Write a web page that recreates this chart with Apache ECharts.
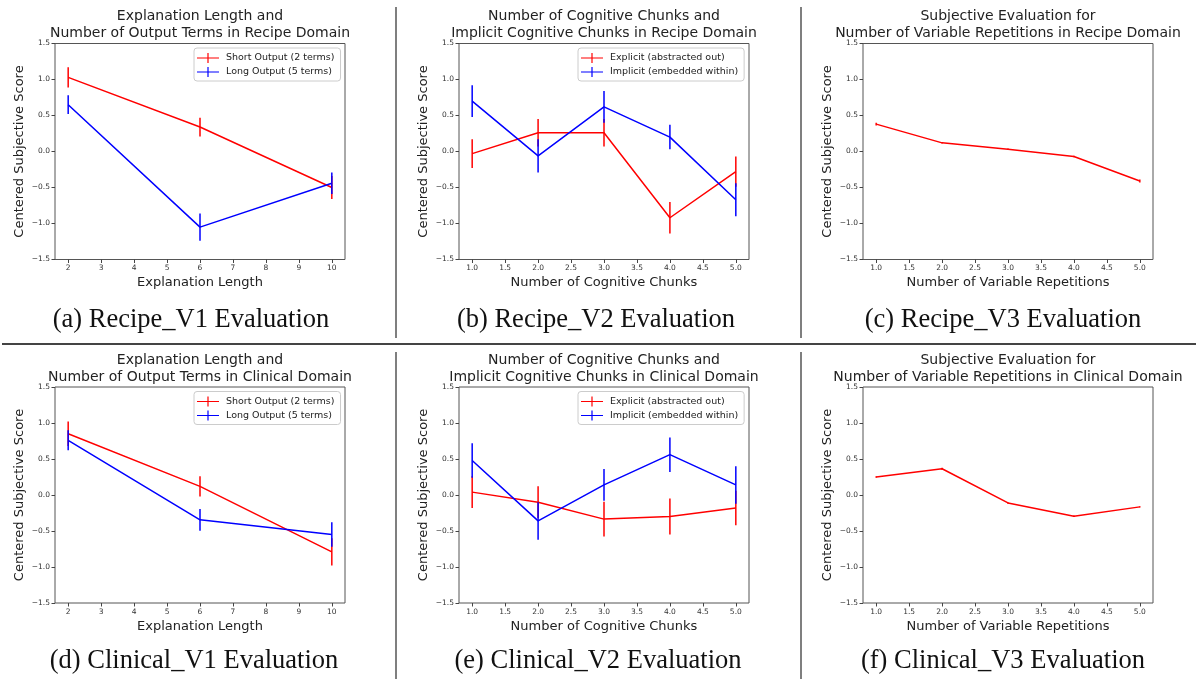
<!DOCTYPE html>
<html><head><meta charset="utf-8">
<script src="https://cdn.jsdelivr.net/npm/echarts@6/dist/echarts.min.js"></script>
<style>html,body{margin:0;padding:0;background:#fff}#c{width:1202px;height:679px}</style>
</head><body><div id="c"></div><script>
// ---------- data ----------
const lenX = [2, 6, 10];
const chunkX = [1, 2, 3, 4, 5];
const lenTicks = [2, 3, 4, 5, 6, 7, 8, 9, 10];
const chunkTicks = [1.0, 1.5, 2.0, 2.5, 3.0, 3.5, 4.0, 4.5, 5.0];
const yTicks = [-1.5, -1.0, -0.5, 0.0, 0.5, 1.0, 1.5];

const recipeV1Short = [1.03, 0.34, -0.50];
const recipeV1ShortErr = [0.14, 0.13, 0.16];
const recipeV1Long = [0.65, -1.05, -0.44];
const recipeV1LongErr = [0.13, 0.19, 0.15];

const recipeV2Explicit = [-0.03, 0.26, 0.26, -0.92, -0.28];
const recipeV2ExplicitErr = [0.20, 0.19, 0.19, 0.22, 0.21];
const recipeV2Implicit = [0.70, -0.06, 0.62, 0.20, -0.67];
const recipeV2ImplicitErr = [0.22, 0.23, 0.22, 0.17, 0.23];

const recipeV3 = [0.38, 0.12, 0.03, -0.07, -0.41];
const recipeV3Err = [0.02, 0.01, 0.01, 0.01, 0.02];

const clinicalV1Short = [0.85, 0.12, -0.79];
const clinicalV1ShortErr = [0.17, 0.14, 0.19];
const clinicalV1Long = [0.76, -0.345, -0.55];
const clinicalV1LongErr = [0.14, 0.15, 0.17];

const clinicalV2Explicit = [0.04, -0.10, -0.335, -0.30, -0.18];
const clinicalV2ExplicitErr = [0.22, 0.22, 0.24, 0.25, 0.24];
const clinicalV2Implicit = [0.48, -0.36, 0.14, 0.56, 0.14];
const clinicalV2ImplicitErr = [0.24, 0.26, 0.22, 0.24, 0.26];

const clinicalV3 = [0.25, 0.365, -0.11, -0.295, -0.165];
const clinicalV3Err = [0.01, 0.015, 0.01, 0.01, 0.01];

const nameShort = 'Short Output (2 terms)';
const nameLong = 'Long Output (5 terms)';
const nameExplicit = 'Explicit (abstracted out)';
const nameImplicit = 'Implicit (embedded within)';
const yName = 'Centered Subjective Score';

// ---------- panels ----------
const panels = [
  {title: 'Explanation Length and\nNumber of Output Terms in Recipe Domain', xName: 'Explanation Length',
   caption: '(a) Recipe_V1 Evaluation', x: lenX, ticks: lenTicks, xMin: 1.6, xMax: 10.4, dec: 0,
   series: [[nameShort, 'red', recipeV1Short, recipeV1ShortErr], [nameLong, 'blue', recipeV1Long, recipeV1LongErr]], legend: true},
  {title: 'Number of Cognitive Chunks and\nImplicit Cognitive Chunks in Recipe Domain', xName: 'Number of Cognitive Chunks',
   caption: '(b) Recipe_V2 Evaluation', x: chunkX, ticks: chunkTicks, xMin: 0.8, xMax: 5.2, dec: 1,
   series: [[nameExplicit, 'red', recipeV2Explicit, recipeV2ExplicitErr], [nameImplicit, 'blue', recipeV2Implicit, recipeV2ImplicitErr]], legend: true},
  {title: 'Subjective Evaluation for\nNumber of Variable Repetitions in Recipe Domain', xName: 'Number of Variable Repetitions',
   caption: '(c) Recipe_V3 Evaluation', x: chunkX, ticks: chunkTicks, xMin: 0.8, xMax: 5.2, dec: 1,
   series: [['Recipe V3', 'red', recipeV3, recipeV3Err]], legend: false},
  {title: 'Explanation Length and\nNumber of Output Terms in Clinical Domain', xName: 'Explanation Length',
   caption: '(d) Clinical_V1 Evaluation', x: lenX, ticks: lenTicks, xMin: 1.6, xMax: 10.4, dec: 0,
   series: [[nameShort, 'red', clinicalV1Short, clinicalV1ShortErr], [nameLong, 'blue', clinicalV1Long, clinicalV1LongErr]], legend: true},
  {title: 'Number of Cognitive Chunks and\nImplicit Cognitive Chunks in Clinical Domain', xName: 'Number of Cognitive Chunks',
   caption: '(e) Clinical_V2 Evaluation', x: chunkX, ticks: chunkTicks, xMin: 0.8, xMax: 5.2, dec: 1,
   series: [[nameExplicit, 'red', clinicalV2Explicit, clinicalV2ExplicitErr], [nameImplicit, 'blue', clinicalV2Implicit, clinicalV2ImplicitErr]], legend: true},
  {title: 'Subjective Evaluation for\nNumber of Variable Repetitions in Clinical Domain', xName: 'Number of Variable Repetitions',
   caption: '(f) Clinical_V3 Evaluation', x: chunkX, ticks: chunkTicks, xMin: 0.8, xMax: 5.2, dec: 1,
   series: [['Clinical V3', 'red', clinicalV3, clinicalV3Err]], legend: false}
];

// ---------- layout ----------
const gridLefts = [55, 459, 863];
const gridTops = [43.5, 387];
const gridW = 290, gridH = 216;
const captionX = [[191, 596, 1003], [194, 598, 1003]];
const captionY = [320, 661];
const titleTop = [8.5, 352];
const legendIcon = 'path://M0,4.4H22V5.6H0Z M10.4,0H11.6V10H10.4Z';
const SANS = '"DejaVu Sans", sans-serif';
const fmtNum = (v, d) => v.toFixed(d).replace('-', '\u2212');

const grid = [], xAxis = [], yAxis = [], series = [], legend = [], graphic = [];

panels.forEach((p, i) => {
  const col = i % 3, row = Math.floor(i / 3);
  const left = gridLefts[col], top = gridTops[row];
  grid.push({left: left, top: top, width: gridW, height: gridH, show: true,
    borderColor: '#555', borderWidth: 1, backgroundColor: '#fff', containLabel: false});
  xAxis.push({type: 'value', gridIndex: i, min: p.xMin, max: p.xMax, position: 'bottom',
    name: p.xName, nameLocation: 'middle', nameGap: 17,
    nameTextStyle: {fontFamily: SANS, fontSize: 13, color: '#222'},
    axisLine: {show: false, onZero: false}, splitLine: {show: false},
    axisTick: {show: true, inside: false, length: 3.5, customValues: p.ticks, lineStyle: {color: '#444'}},
    axisLabel: {customValues: p.ticks, margin: 5, fontFamily: SANS, fontSize: 7.5, color: '#333',
      formatter: (v) => fmtNum(v, p.dec)}
  });
  yAxis.push({type: 'value', gridIndex: i, min: -1.5, max: 1.5, interval: 0.5, position: 'left',
    name: yName, nameLocation: 'middle', nameGap: 29, nameRotate: 90,
    nameTextStyle: {fontFamily: SANS, fontSize: 13, color: '#222'},
    axisLine: {show: false, onZero: false}, splitLine: {show: false},
    axisTick: {show: true, inside: false, length: 3.5, lineStyle: {color: '#444'}},
    axisLabel: {customValues: yTicks, margin: 5, fontFamily: SANS, fontSize: 7.5, color: '#333',
      formatter: (v) => fmtNum(v, 1)}
  });
  p.series.forEach(s => {
    const [name, color, ys, errs] = s;
    series.push({type: 'line', name: name, xAxisIndex: i, yAxisIndex: i,
      data: p.x.map((xv, k) => [xv, ys[k]]), symbol: 'none', color: color,
      lineStyle: {color: color, width: 1.5}, z: 3, animation: false});
    series.push({type: 'custom', name: name + ' err', xAxisIndex: i, yAxisIndex: i,
      data: p.x.map((xv, k) => [xv, ys[k], errs[k]]), z: 4, animation: false,
      renderItem: function (params, api) {
        const xv = api.value(0), yv = api.value(1), e = api.value(2);
        const a = api.coord([xv, yv + e]), b = api.coord([xv, yv - e]);
        return {type: 'line', shape: {x1: a[0], y1: a[1], x2: b[0], y2: b[1]},
          style: {stroke: color, lineWidth: 1.5}};
      }});
  });
  if (p.legend) {
    legend.push({orient: 'vertical', left: col === 0 ? 194 : 578, top: top + 4.5,
      width: col === 0 ? 146 : 166,
      padding: [5, 6, 4, 3], itemGap: 4, itemWidth: 22, itemHeight: 10,
      borderColor: '#ccc', borderWidth: 1, borderRadius: 3, backgroundColor: '#fff',
      selectedMode: false,
      textStyle: {fontFamily: SANS, fontSize: 9.5, color: '#222', padding: [0, 0, 0, 2]},
      data: p.series.map(s => ({name: s[0], icon: legendIcon}))
    });
  }
  graphic.push({type: 'text', style: {text: p.title, x: left + gridW / 2, y: titleTop[row],
    textAlign: 'center', textVerticalAlign: 'top', font: '14px ' + SANS, lineHeight: 16.6, fill: '#222'}});
  graphic.push({type: 'text', style: {text: p.caption, x: captionX[row][col], y: captionY[row],
    textAlign: 'center', textVerticalAlign: 'middle', font: '26.5px "Liberation Serif", "Times New Roman", serif', fill: '#111'}});
});

// separators
graphic.push({type: 'line', shape: {x1: 2, y1: 344, x2: 1196, y2: 344}, style: {stroke: '#444', lineWidth: 2}});
[396, 801].forEach(x => {
  graphic.push({type: 'line', shape: {x1: x, y1: 7, x2: x, y2: 338}, style: {stroke: '#555', lineWidth: 1.5}});
  graphic.push({type: 'line', shape: {x1: x, y1: 352, x2: x, y2: 679}, style: {stroke: '#555', lineWidth: 1.5}});
});

const chart = echarts.init(document.getElementById('c'), null, {renderer: 'canvas'});
chart.setOption({backgroundColor: '#fff', animation: false, grid, xAxis, yAxis, series, legend, graphic});
</script></body></html>
